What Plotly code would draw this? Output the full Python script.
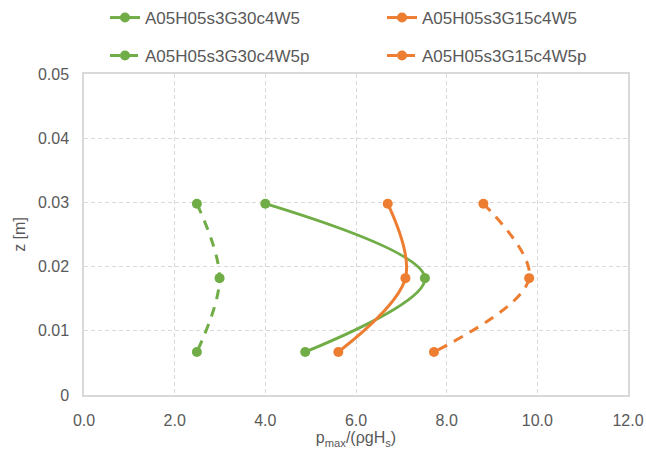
import plotly.graph_objects as go

# Pressure profiles: normalised peak pressure vs. elevation
z_levels = [0.0298, 0.0182, 0.0067]

series_names = [
    "A05H05s3G30c4W5",
    "A05H05s3G15c4W5",
    "A05H05s3G30c4W5p",
    "A05H05s3G15c4W5p",
]
p_g30 = [4.0, 7.52, 4.88]
p_g15 = [6.70, 7.09, 5.61]
p_g30p = [2.49, 2.99, 2.49]
p_g15p = [8.81, 9.82, 7.72]

x_ticks = [0, 2, 4, 6, 8, 10, 12]
x_tick_text = ["0.0", "2.0", "4.0", "6.0", "8.0", "10.0", "12.0"]
y_ticks = [0, 0.01, 0.02, 0.03, 0.04, 0.05]
y_tick_text = ["0", "0.01", "0.02", "0.03", "0.04", "0.05"]

GREEN = "#70ad47"
ORANGE = "#ed7d31"
TEXT = "#595959"
FONT = "Liberation Sans, Arial, sans-serif"
W, H = 646, 457

fig = go.Figure()

# one legend box per entry so the 2x2 key can be placed freely
styles = [
    (p_g30, GREEN, "solid", "legend2", 105, 18),
    (p_g15, ORANGE, "solid", "legend3", 382, 18),
    (p_g30p, GREEN, "10px,8px", "legend4", 105, 56),
    (p_g15p, ORANGE, "10px,8px", "legend5", 382, 56),
]
legend_layout = {}
for name, (xs, color, dash, leg, lx, ly) in zip(series_names, styles):
    fig.add_trace(go.Scatter(
        x=xs, y=z_levels, name=name, mode="lines+markers",
        line=dict(color=color, width=3, dash=dash, shape="spline", smoothing=1.0),
        marker=dict(color=color, size=10),
        legend=leg,
    ))
    legend_layout[leg] = dict(
        orientation="h", xref="container", yref="container",
        x=lx / W, xanchor="left", y=1 - ly / H, yanchor="middle",
        font=dict(size=17, color=TEXT, family=FONT), bgcolor="rgba(0,0,0,0)",
    )

axis_common = dict(
    showgrid=True, gridcolor="#d9d9d9", griddash="4px,3px", gridwidth=1,
    zeroline=False, showline=True, linecolor="#d9d9d9", linewidth=1.5, mirror=True,
    ticks="", tickfont=dict(size=16, color=TEXT, family=FONT),
)

fig.update_layout(
    width=W, height=H,
    showlegend=True,
    margin=dict(l=84, r=18, t=74, b=62, autoexpand=False),
    paper_bgcolor="white", plot_bgcolor="white",
    font=dict(family=FONT, size=16, color=TEXT),
    xaxis=dict(range=[0, 12], tickvals=x_ticks, ticktext=x_tick_text,
               ticklabelstandoff=10,
               title=dict(text="p<sub>max</sub>/(ρgH<sub>s</sub>)", standoff=4,
                          font=dict(size=16, color=TEXT, family=FONT)),
               **axis_common),
    yaxis=dict(range=[0, 0.05], tickvals=y_ticks, ticktext=y_tick_text,
               ticklabelstandoff=10,
               title=dict(text="z [m]", standoff=8,
                          font=dict(size=16, color=TEXT, family=FONT)),
               **axis_common),
    **legend_layout,
)

fig.write_html("out.html")
